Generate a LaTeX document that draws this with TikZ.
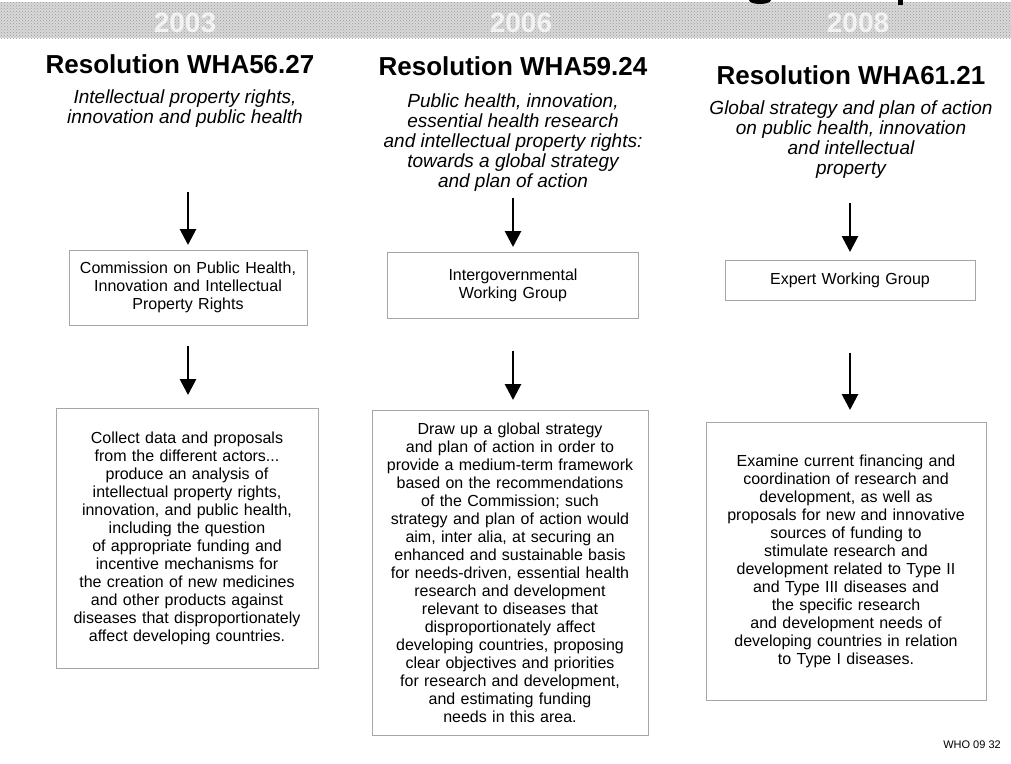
\documentclass[tikz,border=0pt]{standalone}
\usepackage{fontspec}
\setmainfont{Liberation Sans}
\usetikzlibrary{arrows.meta, patterns}
\begin{document}
\begin{tikzpicture}[x=1pt, y=-1pt, >={Triangle[width=16pt,length=16pt]},
        restitle/.style={font=\fontsize{26}{28}\selectfont\bfseries},
        resnote/.style={font=\fontsize{19}{20}\selectfont\itshape, align=center},
        bodybox/.style={draw=gray!70, line width=0.6pt, align=center, anchor=north,
                        inner sep=4pt, font=\fontsize{16}{18}\selectfont},
        flowarrow/.style={->, line width=2.8pt}]
        \useasboundingbox (0,0) rectangle (1011,763);
        % banner with the years
        \fill[gray!30] (0,2) rectangle (1011,38);
        \fill[pattern=crosshatch dots, pattern color=gray!80] (0,2) rectangle (1011,38);
        \fill (749,0) arc[start angle=180, end angle=0, x radius=11, y radius=4] -- cycle;
        \fill (898,0) rectangle (903,5);
        \foreach \yr/\xx in {2003/185, 2006/521, 2008/858} {
            \node[font=\fontsize{28}{28}\selectfont\bfseries, text=white, opacity=0.75] (yr\yr) at (\xx,23) {\yr};
        }
        % resolutions
        \node[restitle] (res1) at (180,64) {Resolution WHA56.27};
        \node[restitle] (res2) at (513,66) {Resolution WHA59.24};
        \node[restitle] (res3) at (851,75) {Resolution WHA61.21};
        \node[resnote] (note1) at (185,109) {Intellectual property rights,\\innovation and public health};
        \node[resnote] (note2) at (513,143) {Public health, innovation,\\essential health research\\and intellectual property rights:\\towards a global strategy\\and plan of action};
        \node[resnote] (note3) at (851,140) {Global strategy and plan of action\\on public health, innovation\\and intellectual\\property};
        % bodies
        \node[bodybox, text width=230pt, minimum height=75pt] (cphi) at (188,250) {Commission on Public Health,\\Innovation and Intellectual\\Property Rights};
        \node[bodybox, text width=243pt, minimum height=66pt] (igwg) at (513,252) {Intergovernmental\\Working Group};
        \node[bodybox, text width=242pt, minimum height=40pt] (ewg) at (850,260) {Expert Working Group};
        % mandates
        \node[bodybox, text width=254pt, minimum height=260pt] (task1) at (187,408) {Collect data and proposals\\from the different actors...\\produce an analysis of\\intellectual property rights,\\innovation, and public health,\\including the question\\of appropriate funding and\\incentive mechanisms for\\the creation of new medicines\\and other products against\\diseases that disproportionately\\affect developing countries.};
        \node[bodybox, text width=268pt, minimum height=325pt] (task2) at (510,410) {Draw up a global strategy\\and plan of action in order to\\provide a medium-term framework\\based on the recommendations\\of the Commission; such\\strategy and plan of action would\\aim, inter alia, at securing an\\enhanced and sustainable basis\\for needs-driven, essential health\\research and development\\relevant to diseases that\\disproportionately affect\\developing countries, proposing\\clear objectives and priorities\\for research and development,\\and estimating funding\\needs in this area.};
        \node[bodybox, text width=272pt, minimum height=278pt] (task3) at (846,422) {Examine current financing and\\coordination of research and\\development, as well as\\proposals for new and innovative\\sources of funding to\\stimulate research and\\development related to Type II\\and Type III diseases and\\the specific research\\and development needs of\\developing countries in relation\\to Type I diseases.};
        % arrows
        \coordinate (from1) at (cphi.north |- 0,192);
        \coordinate (from2) at (igwg.north |- 0,198);
        \coordinate (from3) at (ewg.north |- 0,203);
        \draw[flowarrow, shorten >=5pt] (from1) -- (cphi.north);
        \draw[flowarrow, shorten >=5pt] (from2) -- (igwg.north);
        \draw[flowarrow, shorten >=8pt] (from3) -- (ewg.north);
        \draw[flowarrow, shorten <=20pt, shorten >=13pt] (cphi.south) -- (cphi.south |- task1.north);
        \draw[flowarrow, shorten <=32pt, shorten >=10pt] (igwg.south) -- (igwg.south |- task2.north);
        \draw[flowarrow, shorten <=52pt, shorten >=12pt] (ewg.south) -- (ewg.south |- task3.north);
        \node[font=\fontsize{11}{12}\selectfont] (ref) at (972,745) {WHO 09 32};
\end{tikzpicture}
\end{document}
